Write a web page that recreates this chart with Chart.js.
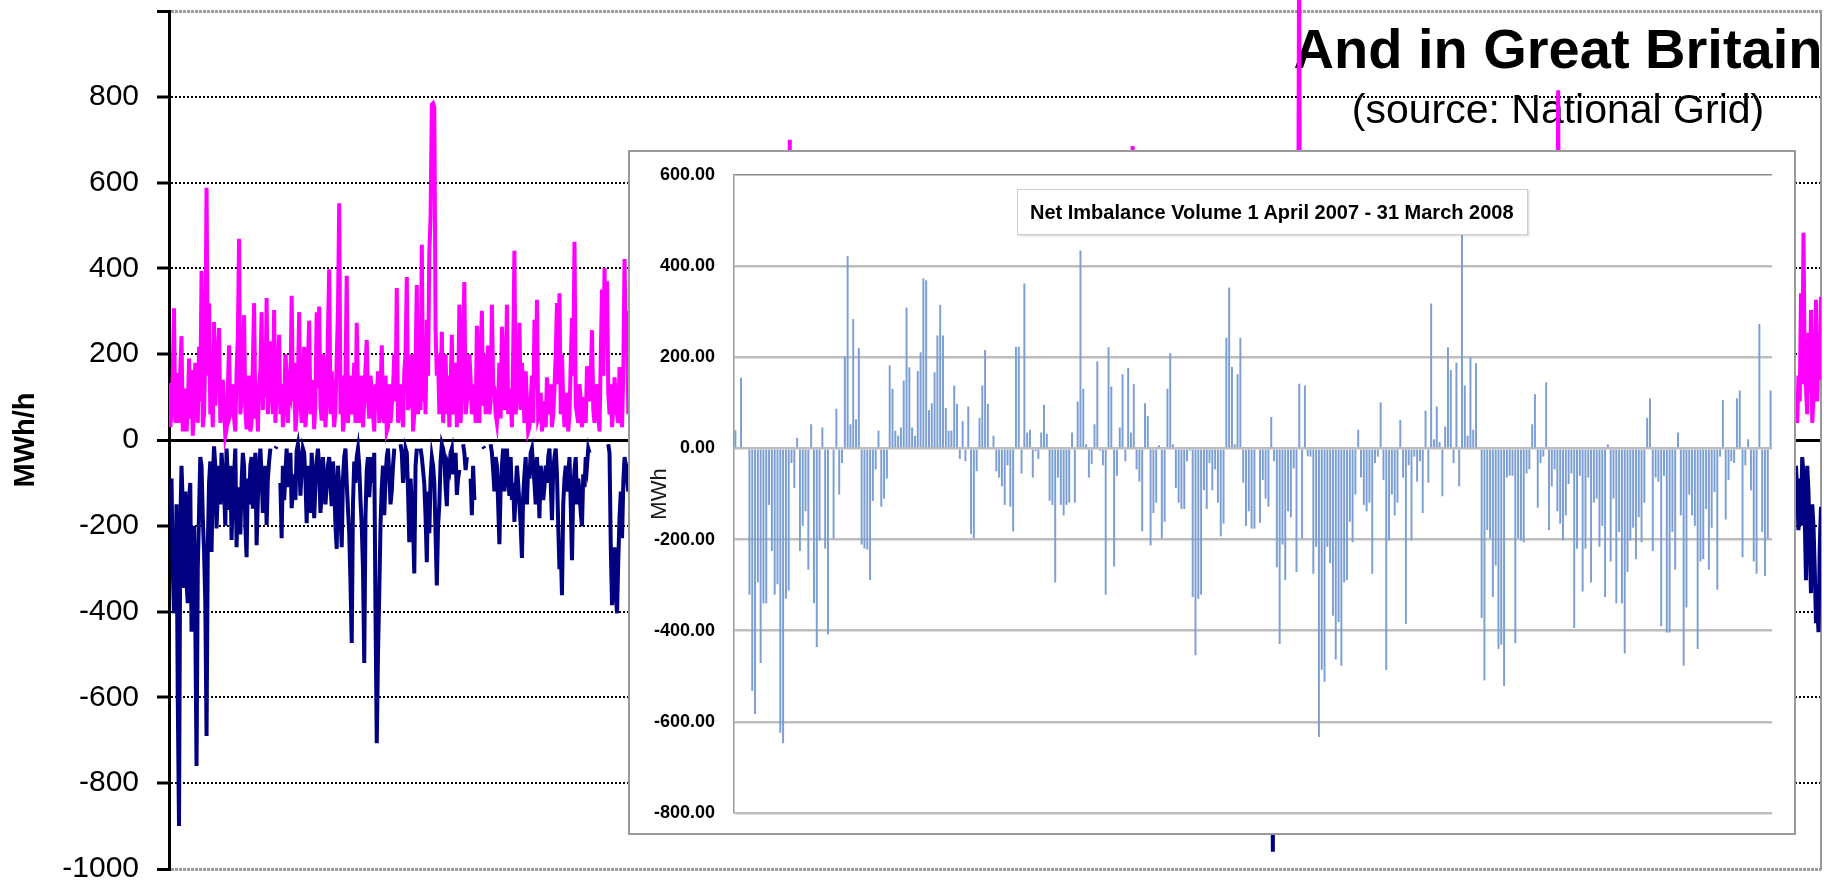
<!DOCTYPE html>
<html>
<head>
<meta charset="utf-8">
<script src="https://cdn.jsdelivr.net/npm/chart.js"></script>
<style>
html,body{margin:0;padding:0;background:#fff;}
#wrap{position:relative;width:1824px;height:884px;overflow:hidden;background:#fff;}
#main{position:absolute;left:0;top:0;}
#insetBox{position:absolute;left:628px;top:150px;width:1164px;height:681px;border:2px solid #9a9a9a;background:#fff;}
#inset{position:absolute;left:0;top:0;}
#insetTitle{position:absolute;left:1017px;top:189px;width:511px;height:46px;box-sizing:border-box;border:1px solid #cfcfcf;box-shadow:1px 1px 2px rgba(0,0,0,0.18);background:#fff;font:bold 20px "Liberation Sans",Arial,sans-serif;line-height:44px;padding-left:12px;white-space:nowrap;color:#000;}
</style>
</head>
<body>
<div id="wrap">
  <canvas id="main" width="1824" height="884"></canvas>
  <div id="insetBox"><canvas id="inset" width="1164" height="681"></canvas></div>
  <div id="insetTitle">Net Imbalance Volume 1 April 2007 - 31 March 2008</div>
</div>
<script>
// ---------- Background chart (Great Britain imbalance, MWh/h) ----------
const TITLE_TEXT = 'And in Great Britain';
const SOURCE_TEXT = '(source: National Grid)';
const MAIN_POINTS = 1321;
const mainTicks = [1000, 800, 600, 400, 200, 0, -200, -400, -600, -800, -1000];

// positive (long) series, visible left part, starting at index 0
const longLeft = [
 133,30,63,150,307,40,156,110,40,160,242,20,54,120,20,70,190,50,163,10,
 80,180,120,40,217,90,394,30,60,200,588,150,319,60,100,30,275,80,150,200,
 261,40,95,140,70,10,25,120,221,60,70,130,50,20,160,240,469,60,100,150,
 291,70,25,90,150,20,40,180,319,50,110,20,130,160,298,70,190,100,331,60,
 120,230,160,60,303,40,110,170,245,60,130,30,80,200,160,40,125,110,336,90,
 180,20,60,140,298,90,40,120,217,30,85,180,278,60,100,140,25,90,298,120,
 311,80,45,200,160,30,100,250,398,60,160,90,30,70,190,300,552,60,150,20,
 50,140,383,40,110,150,60,90,180,40,273,120,40,80,150,30,90,170,233,100,
 50,150,110,60,20,130,90,160,40,100,221,60,40,150,20,30,130,40,80,120,
 200,90,354,40,110,130,60,30,160,200,380,70,90,120,200,20,60,180,361,60,
 180,70,455,90,150,60,280,150,436,520,782,785,775,260,150,200,60,120,252,40,
 120,200,60,150,30,120,245,60,100,180,30,90,315,40,120,250,368,60,90,110,
 200,140,60,90,130,40,266,110,40,200,301,80,200,60,150,220,60,90,315,130,
 120,60,40,90,180,50,264,170,70,130,315,60,120,100,30,200,441,60,100,150,
 273,70,180,120,40,160,90,20,30,90,150,40,280,120,327,50,60,110,20,60,
 90,30,146,80,60,130,30,60,120,200,319,130,342,60,200,90,30,60,110,20,
 60,180,284,150,462,80,60,40,130,90,30,70,100,40,172,120,90,150,256,70,
 40,100,130,60,20,200,351,150,401,220,370,110,60,130,30,70,146,100,60,40,
 170,100,30,160,422,200,301,60,120,90,40];
// negative (short) series, visible left part, starting at index 0
const shortLeft = [
 -100,-160,-90,-300,-404,-380,-150,-600,-900,-200,-60,-150,-345,-120,-334,-380,-140,-100,-447,-330,
 -200,-420,-760,-300,-170,-40,-60,-180,-260,-380,-690,-250,-100,-50,-261,-90,-15,-60,-206,-120,
 -60,-150,-30,-80,-120,-200,-20,-90,-163,-60,-233,-130,-80,-20,-250,-110,-180,-220,-100,-30,
 -60,-200,-273,-90,-150,-60,-40,-160,-90,-30,-245,-140,-60,-20,-80,-170,-120,-60,-198,-90,
 -50,-20,null,null,null,-20,-15,null,null,-100,-229,-60,-140,-80,-20,-110,-60,-30,-159,-120,
 -80,-140,-25,-10,-40,-130,-70,-20,-30,-90,-194,-60,-120,-170,-30,-80,-182,-110,-50,-20,
 -60,-170,-130,-40,-90,-150,-110,-60,-40,-100,-154,-50,-100,-200,-254,-60,-110,-180,-250,-90,
 -40,-20,-100,-160,-217,-330,-473,-150,-50,-100,-40,-20,-60,-140,-200,-300,-520,-180,-70,-40,
 -133,-80,-40,-100,-30,-400,-707,-500,-357,-200,-110,-60,-175,-90,-40,-20,-80,-150,-119,-60,
 -20,null,null,null,null,-10,-30,-100,-65,-20,-30,-120,-238,-90,-150,-200,-311,-60,-20,null,
 null,-20,-40,-70,-103,-180,-285,-120,-217,-90,-40,-60,-100,-220,-339,-200,-150,-50,-10,-20,
 -40,-110,-154,-60,-70,-30,-20,-80,-60,-30,-128,-90,-70,null,null,-10,-30,-70,-40,null,
 null,-90,-175,-60,-140,null,null,null,null,null,null,-15,-20,null,null,null,null,-10,-30,-70,
 -120,-40,-60,-150,-243,-110,-60,-20,-120,-60,-20,-90,-130,-40,-140,-100,-191,-120,-60,-100,
 -150,-200,-275,-130,-80,-40,-150,-60,-90,-30,-20,-60,-100,-150,-40,-100,-182,-60,-90,-140,
 -110,-60,-100,-40,-20,-100,-187,-70,-40,-20,-80,-200,-301,-250,-362,-150,-90,-60,-120,-80,
 -40,-150,-280,-120,-70,-40,-150,-90,-120,-170,-201,-80,-110,-40,-60,-20,-30,null,null,null,
 null,null,null,null,null,null,null,null,null,null,null,-10,-30,-250,-385,-300,-250,-360,-404,-280,
 -180,-120,-229,-100,-40,-60,-93,-120,-60,-30,-50];
// spikes visible above / below the inset: [start index, values]
const longSpikes = [[495,[90,700,60]],[769,[120,685,50]],[902,[150,1150,80]],[1109,[100,815,60]]];
const shortSpikes = [[881,[-120,-960,-60]]];
// visible right strip
const rightStart = 1300;
const longRight = [80,40,150,90,342,130,483,160,120,60,250,110,303,40,100,180,327,90,200,140,334];
const shortRight = [-60,-120,-210,-90,-200,-40,-80,-180,-327,-60,-120,-250,-357,-150,-200,-300,-427,-380,-448,-250,-156];

// ---------- Inset chart (Net Imbalance Volume, MWh) ----------
const netImbalance = [40,0,155,0,0,
 -321,-532,-583,-294,-471,-340,-340,-124,-225,-321,
 -298,-624,-647,-330,-312,-32,-87,23,-225,-170,
 -138,-266,53,-340,-436,-202,46,-220,-408,0,
 -197,87,-101,-32,202,422,53,284,64,220,
 -211,-220,-222,-289,-115,-46,39,-128,-110,-66,
 182,131,39,28,46,149,309,178,46,28,
 170,211,373,369,84,99,167,248,315,248,
 89,39,39,138,98,-23,60,-28,92,-188,
 -197,-50,67,138,216,98,0,28,-50,-64,
 -83,-124,-37,-128,-182,223,223,-55,362,35,
 41,-64,-6,-23,35,96,32,-115,-124,-294,
 -64,-124,-147,-124,-119,35,-119,103,434,131,
 9,-64,-34,53,191,-5,-37,-321,222,136,
 -259,-60,46,163,-28,177,35,141,-46,-73,
 -182,99,71,-213,-142,-119,7,-197,-161,131,
 209,9,-87,-119,-133,-133,-28,-5,-326,-454,
 -330,-321,-92,-133,-32,-92,-46,-119,-193,-165,
 243,353,179,9,163,243,
 -75,-170,-138,-176,-176,0,-163,-69,-110,-128,
 69,-28,-261,-429,-211,-289,-138,-151,-44,-271,
 142,-197,138,-17,-18,-275,-216,-633,-486,-512,
 -216,-252,-367,-463,-381,-477,-294,-289,-161,-206,
 -101,41,-64,-124,-138,-119,-275,-32,-18,101,
 -69,-486,-202,-101,-147,-119,62,-64,-385,-37,
 -202,-18,-73,-28,-142,83,-75,318,20,92,
 14,-105,48,222,172,-32,188,-83,468,138,
 28,200,41,187,0,-372,-509,-179,-197,-326,
 -257,-440,-431,-521,-64,-60,-60,-427,-197,-202,
 -206,-55,-46,53,119,-130,-32,-18,145,-179,
 -83,-46,-138,-165,-202,-147,-78,-55,-394,-220,
 -60,-314,-220,-64,-294,-119,-110,-216,-170,-326,
 9,-248,-110,-340,-183,-340,-450,-271,-202,-174,
 -243,-151,-206,-119,67,110,-225,-64,-73,-390,
 -60,-404,-404,-183,-266,35,-147,-477,-349,-101,
 -147,-170,-440,-248,-243,-133,-266,-174,-96,-310,
 -18,106,-156,-69,-28,-32,110,127,-239,-37,
 20,-92,-248,-275,273,-183,-280,-197,127];
const insetTicks = [600, 400, 200, 0, -200, -400, -600, -800];

// ---------- build tables ----------
function buildSeries(n, parts) {
  const a = new Array(n).fill(null);
  parts.forEach(([start, vals]) => vals.forEach((v, k) => { a[start + k] = v; }));
  return a;
}
const longSeries = buildSeries(MAIN_POINTS, [[0, longLeft], ...longSpikes, [rightStart, longRight]]);
const shortSeries = buildSeries(MAIN_POINTS, [[0, shortLeft], ...shortSpikes, [rightStart, shortRight]]);
const mainLabels = longSeries.map((_, i) => i);
const insetLabels = netImbalance.map((_, i) => i + 1);

const FONT = '"Liberation Sans", Arial, Helvetica, sans-serif';
Chart.defaults.font.family = FONT;
Chart.defaults.animation = false;

const titlesPlugin = {
  id: 'titles',
  beforeDatasetsDraw(chart) {
    const ctx = chart.ctx;
    ctx.save();
    ctx.fillStyle = '#000';
    ctx.textAlign = 'center';
    ctx.textBaseline = 'alphabetic';
    ctx.font = 'bold 56px ' + FONT;
    ctx.fillText(TITLE_TEXT, 1558, 68);
    ctx.font = '41px ' + FONT;
    ctx.fillText(SOURCE_TEXT, 1558, 123);
    ctx.restore();
  }
};

new Chart(document.getElementById('main'), {
  type: 'line',
  data: {
    labels: mainLabels,
    datasets: [
      { label: 'Long', data: longSeries, borderColor: '#FF00FF', borderWidth: 4, pointRadius: 0,
        tension: 0, spanGaps: false, clip: {left: 0, top: false, right: 0, bottom: 0} },
      { label: 'Short', data: shortSeries, borderColor: '#000080', borderWidth: 4, pointRadius: 0,
        tension: 0, spanGaps: false, clip: {left: 0, top: 0, right: 0, bottom: false} }
    ]
  },
  options: {
    responsive: false,
    animation: false,
    layout: { padding: { left: 0, right: 3, top: 11, bottom: 15 } },
    plugins: { legend: { display: false }, tooltip: { enabled: false } },
    scales: {
      x: { display: false },
      y: {
        min: -1000, max: 1000,
        afterBuildTicks: s => { s.ticks = mainTicks.map(v => ({ value: v })); },
        afterFit: s => { s.width = 169; s.paddingTop = 0; s.paddingBottom = 0; },
        ticks: {
          color: '#000', padding: 18,
          font: { size: 30, family: FONT },
          callback: v => (v === 1000 ? '' : String(v))
        },
        grid: {
          color: c => (Math.abs(c.tick.value) === 1000 ? '#9a9a9a' : '#000'),
          lineWidth: c => (c.tick.value === 0 ? 3 : (Math.abs(c.tick.value) === 1000 ? 3 : 2)),
          drawTicks: true, tickLength: 12, tickColor: '#000', tickWidth: 3
        },
        border: {
          display: true, color: '#000', width: 3,
          dash: c => (c.tick && c.tick.value === 0 ? [] : (c.tick && Math.abs(c.tick.value) === 1000 ? [3, 1] : [2, 2]))
        },
        title: {
          display: true, text: 'MWh/h', color: '#000',
          font: { size: 29, weight: 'bold', family: FONT },
          padding: { top: 9, bottom: 0 }
        }
      },
      y2: {
        position: 'right', min: -1000, max: 1000,
        afterFit: s => { s.width = 0; s.paddingTop = 0; s.paddingBottom = 0; },
        ticks: { display: false },
        grid: { display: false, drawTicks: false },
        border: { display: true, color: '#9a9a9a', width: 2 }
      }
    }
  },
  plugins: [titlesPlugin]
});

new Chart(document.getElementById('inset'), {
  type: 'bar',
  data: {
    labels: insetLabels,
    datasets: [{
      label: 'Net Imbalance Volume', data: netImbalance,
      backgroundColor: '#7c9fd3', borderWidth: 0,
      barPercentage: 1.0, categoryPercentage: 0.7
    }]
  },
  options: {
    responsive: false,
    animation: false,
    layout: { padding: { left: 0, right: 22, top: 23, bottom: 20 } },
    plugins: { legend: { display: false }, tooltip: { enabled: false } },
    scales: {
      x: { display: false },
      y: {
        min: -800, max: 600,
        afterBuildTicks: s => { s.ticks = insetTicks.map(v => ({ value: v })); },
        afterFit: s => { s.width = 104; s.paddingTop = 0; s.paddingBottom = 0; },
        ticks: {
          color: '#000', padding: 19,
          font: { size: 18, weight: 'bold', family: FONT },
          callback: v => Number(v).toFixed(2)
        },
        grid: {
          color: c => (c.tick.value === 600 ? '#8c8c8c' : '#bdbdbd'),
          lineWidth: c => (c.tick.value === 600 ? 1.5 : 2.5),
          drawTicks: false
        },
        border: { display: true, color: '#9a9a9a', width: 1.5 },
        title: {
          display: true, text: 'MWh', color: '#1a1a1a',
          font: { size: 22, family: FONT },
          padding: { top: 17, bottom: 0 }
        }
      }
    }
  }
});
</script>
</body>
</html>
